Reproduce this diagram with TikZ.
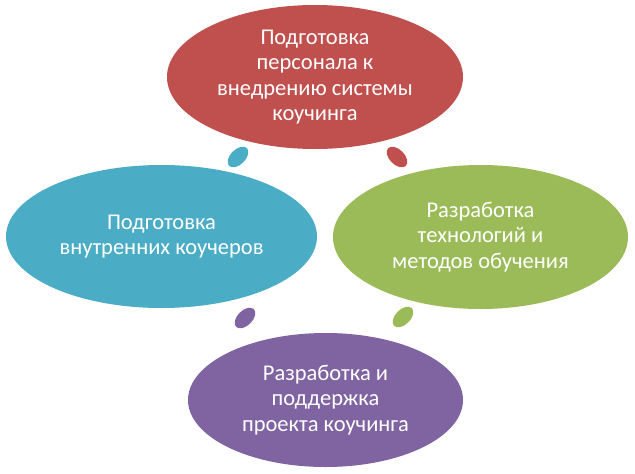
\documentclass[tikz,border=0pt]{standalone}
\usepackage{fontspec}
\setmainfont{Carlito}
\usetikzlibrary{shapes.geometric}
\definecolor{cred}{HTML}{C0504D}
\definecolor{cteal}{HTML}{4BACC6}
\definecolor{cgreen}{HTML}{9BBB59}
\definecolor{cpurple}{HTML}{8064A2}
\tikzset{
  bigell/.style={ellipse, fill=#1, draw=none, inner sep=0pt, text=white, align=center,
    font=\fontsize{22.5}{25.5}\selectfont},
  dotell/.style={ellipse, fill=#1, draw=none, inner sep=0pt, minimum width=25pt, minimum height=15pt}
}
\begin{document}
\begin{tikzpicture}[x=1pt,y=-1pt]
\useasboundingbox (0,0) rectangle (635,474);
\fill[white] (0,0) rectangle (635,474);
\node[bigell=cred, minimum width=296pt, minimum height=144pt] (top) at (315,77)
  {Подготовка\\персонала к\\внедрению системы\\коучинга};
\node[bigell=cteal, minimum width=311pt, minimum height=143pt] (left) at (161.5,236.5)
  {Подготовка\\внутренних коучеров};
\node[bigell=cgreen, minimum width=295pt, minimum height=144pt] (right) at (480.5,237)
  {Разработка\\технологий и\\методов обучения};
\node[bigell=cpurple, minimum width=275pt, minimum height=134pt] (bottom) at (325.5,400)
  {Разработка и\\поддержка\\проекта коучинга};
\node[dotell=cteal, rotate=45] (d1) at (238,157) {};
\node[dotell=cred, rotate=-45] (d2) at (397,157) {};
\node[dotell=cgreen, rotate=45] (d3) at (403,317) {};
\node[dotell=cpurple, rotate=45] (d4) at (245,318) {};
\end{tikzpicture}
\end{document}
